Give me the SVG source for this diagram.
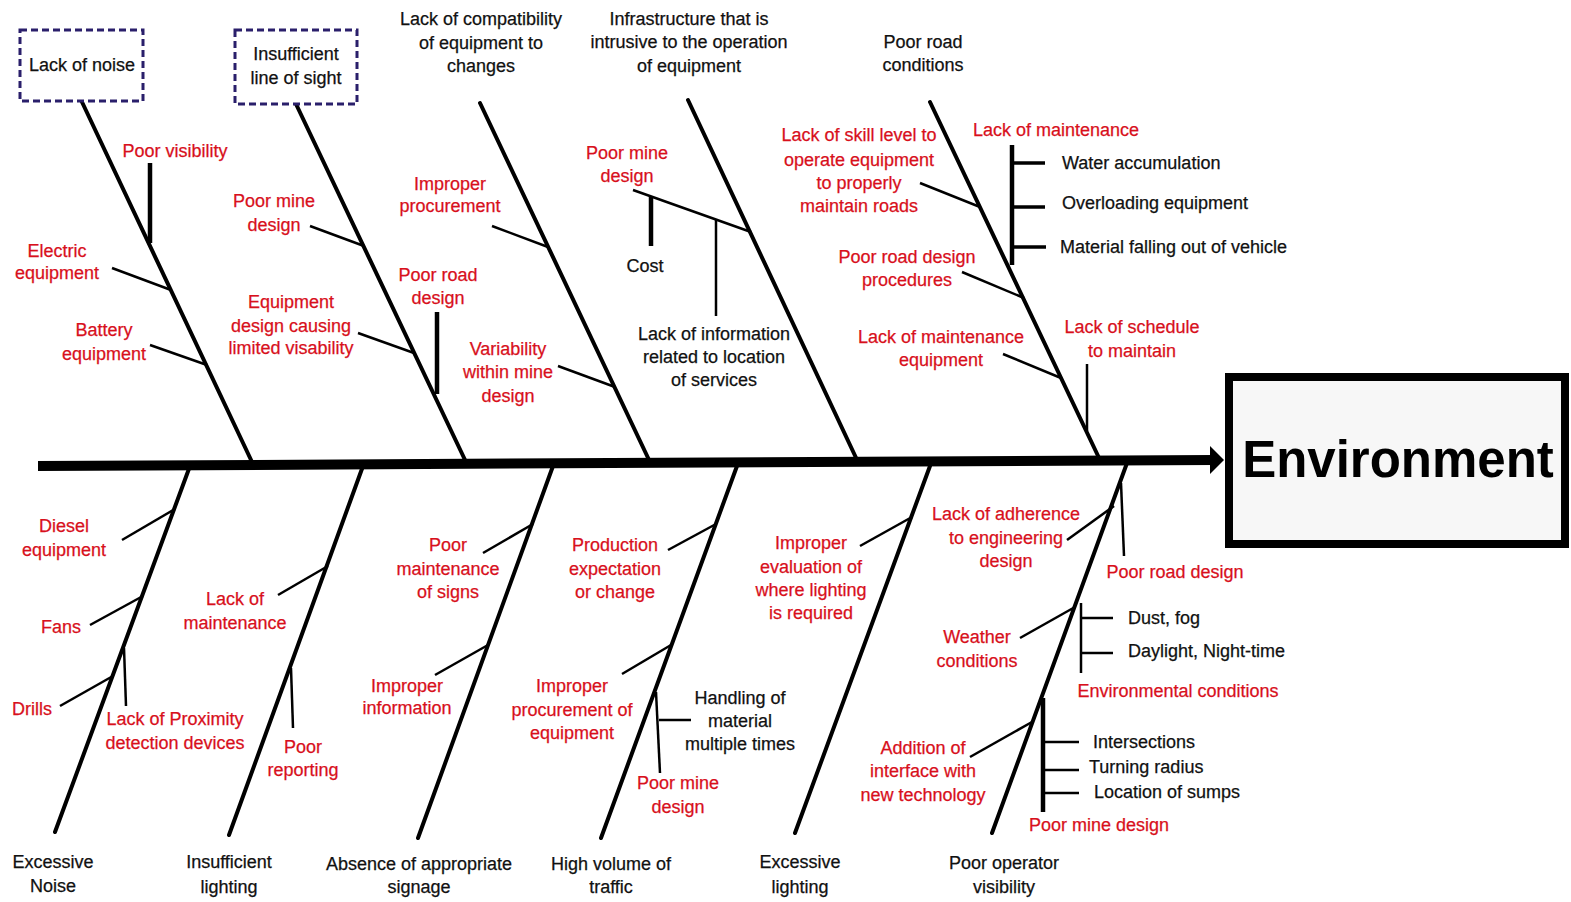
<svg xmlns="http://www.w3.org/2000/svg" width="1571" height="902" viewBox="0 0 1571 902">
<defs>
<style>
text{font-family:"Liberation Sans",Arial,sans-serif;font-size:18px}
.m{text-anchor:middle}
.r{fill:#d8101c;stroke:#d8101c;stroke-width:0.25}
.k{fill:#111;stroke:#111;stroke-width:0.25}
.bone{stroke:#000;stroke-width:4;fill:none;stroke-linecap:round}
.br{stroke:#000;stroke-width:2.5;fill:none}
.tk{stroke:#000;stroke-width:4.5;fill:none}
.dash{fill:#fff;stroke:#2a1f6b;stroke-width:3;stroke-dasharray:7 4}
</style>
</defs>
<rect width="1571" height="902" fill="#fff"/>
<g id="connectors">
<line x1="38" y1="466" x2="1214" y2="460" stroke="#000" stroke-width="10"/>
<polygon points="1210,446 1224,460 1210,474" fill="#000"/>
<line class="bone" x1="82" y1="102" x2="252" y2="462"/>
<line class="bone" x1="296" y1="104" x2="466" y2="462"/>
<line class="bone" x1="480" y1="103" x2="650" y2="462"/>
<line class="bone" x1="688" y1="100" x2="858" y2="462"/>
<line class="bone" x1="930" y1="102" x2="1100" y2="460"/>
<line class="tk" x1="150" y1="163" x2="150" y2="243"/>
<line class="br" x1="112" y1="268" x2="171" y2="290"/>
<line class="br" x1="150" y1="345" x2="207" y2="365"/>
<line class="br" x1="310" y1="226" x2="364" y2="246"/>
<line class="br" x1="358" y1="333" x2="414" y2="353"/>
<line class="tk" x1="437" y1="312" x2="437" y2="394"/>
<line class="br" x1="492" y1="226" x2="548" y2="247"/>
<line class="br" x1="558" y1="366" x2="615" y2="387"/>
<line class="br" x1="633" y1="190" x2="751" y2="232"/>
<line class="tk" x1="651" y1="197" x2="651" y2="246"/>
<line class="br" x1="716" y1="220" x2="716" y2="316"/>
<line class="br" x1="920" y1="183" x2="980" y2="207"/>
<line class="tk" x1="1012" y1="145" x2="1012" y2="265"/>
<line class="br" x1="1012" y1="163" x2="1045" y2="163" style="stroke-width:3.5"/>
<line class="br" x1="1012" y1="207" x2="1045" y2="207" style="stroke-width:3.5"/>
<line class="br" x1="1012" y1="247" x2="1046" y2="247" style="stroke-width:3.5"/>
<line class="br" x1="962" y1="272" x2="1024" y2="298"/>
<line class="br" x1="1003" y1="354" x2="1061" y2="378"/>
<line class="br" x1="1087" y1="364" x2="1087" y2="431"/>
<line class="bone" x1="190" y1="466" x2="55" y2="832"/>
<line class="bone" x1="363" y1="466" x2="229" y2="835"/>
<line class="bone" x1="553" y1="466" x2="418" y2="838"/>
<line class="bone" x1="737" y1="466" x2="601" y2="838"/>
<line class="bone" x1="930" y1="466" x2="795" y2="833"/>
<line class="bone" x1="1127" y1="463" x2="992" y2="833"/>
<line class="br" x1="122" y1="540" x2="175" y2="509"/>
<line class="br" x1="90" y1="625" x2="143" y2="596"/>
<line class="br" x1="60" y1="706" x2="113" y2="676"/>
<line class="br" x1="124" y1="648" x2="126" y2="706"/>
<line class="br" x1="278" y1="595" x2="328" y2="566"/>
<line class="br" x1="291" y1="668" x2="293" y2="728"/>
<line class="br" x1="483" y1="553" x2="533" y2="524"/>
<line class="br" x1="435" y1="675" x2="488" y2="645"/>
<line class="br" x1="668" y1="550" x2="716" y2="524"/>
<line class="br" x1="622" y1="674" x2="671" y2="645"/>
<line class="br" x1="656" y1="692" x2="660" y2="773"/>
<line class="br" x1="659" y1="720" x2="691" y2="720"/>
<line class="br" x1="860" y1="546" x2="912" y2="517"/>
<line class="br" x1="1067" y1="540" x2="1114" y2="506"/>
<line class="br" x1="1121" y1="483" x2="1124" y2="556"/>
<line class="br" x1="1020" y1="638" x2="1075" y2="607"/>
<line class="br" x1="1081" y1="603" x2="1081" y2="673"/>
<line class="br" x1="1081" y1="618" x2="1113" y2="618"/>
<line class="br" x1="1081" y1="653" x2="1113" y2="653"/>
<line class="br" x1="970" y1="757" x2="1032" y2="722"/>
<line class="tk" x1="1043" y1="698" x2="1043" y2="812"/>
<line class="br" x1="1043" y1="742" x2="1079" y2="742"/>
<line class="br" x1="1043" y1="770" x2="1079" y2="770"/>
<line class="br" x1="1043" y1="793" x2="1079" y2="793"/>
</g>
<g id="env">
<rect x="1229" y="377" width="336" height="167" fill="#f7f7f7" stroke="#000" stroke-width="8"/>
<text x="1398" y="477" text-anchor="middle" style="font-size:51px;font-weight:bold">Environment</text>
</g>
<g id="t1"><rect class="dash" x="20" y="30" width="123" height="71"/><text class="m k" x="82" y="71">Lack of noise</text></g>
<g id="t2"><rect class="dash" x="235" y="30" width="122" height="74"/><text class="m k" x="296" y="60">Insufficient</text><text class="m k" x="296" y="84">line of sight</text></g>
<g id="t3"><text class="m k" x="481" y="25">Lack of compatibility</text><text class="m k" x="481" y="49">of equipment to</text><text class="m k" x="481" y="72">changes</text></g>
<g id="t4"><text class="m k" x="689" y="25">Infrastructure that is</text><text class="m k" x="689" y="48">intrusive to the operation</text><text class="m k" x="689" y="72">of equipment</text></g>
<g id="t5"><text class="m k" x="923" y="48">Poor road</text><text class="m k" x="923" y="71">conditions</text></g>
<g id="n1"><text class="m r" x="175" y="157">Poor visibility</text></g>
<g id="n2"><text class="m r" x="57" y="257">Electric</text><text class="m r" x="57" y="279">equipment</text></g>
<g id="n3"><text class="m r" x="104" y="336">Battery</text><text class="m r" x="104" y="360">equipment</text></g>
<g id="n4"><text class="m r" x="274" y="207">Poor mine</text><text class="m r" x="274" y="231">design</text></g>
<g id="n5"><text class="m r" x="291" y="308">Equipment</text><text class="m r" x="291" y="332">design causing</text><text class="m r" x="291" y="354">limited visability</text></g>
<g id="n6"><text class="m r" x="438" y="281">Poor road</text><text class="m r" x="438" y="304">design</text></g>
<g id="n7"><text class="m r" x="450" y="190">Improper</text><text class="m r" x="450" y="212">procurement</text></g>
<g id="n8"><text class="m r" x="508" y="355">Variability</text><text class="m r" x="508" y="378">within mine</text><text class="m r" x="508" y="402">design</text></g>
<g id="n9"><text class="m r" x="627" y="159">Poor mine</text><text class="m r" x="627" y="182">design</text></g>
<g id="n10"><text class="m k" x="645" y="272">Cost</text></g>
<g id="n11"><text class="m k" x="714" y="340">Lack of information</text><text class="m k" x="714" y="363">related to location</text><text class="m k" x="714" y="386">of services</text></g>
<g id="n12"><text class="m r" x="859" y="141">Lack of skill level to</text><text class="m r" x="859" y="166">operate equipment</text><text class="m r" x="859" y="189">to properly</text><text class="m r" x="859" y="212">maintain roads</text></g>
<g id="n13"><text class="m r" x="1056" y="136">Lack of maintenance</text></g>
<g id="n14"><text class="k" x="1062" y="169">Water accumulation</text></g>
<g id="n15"><text class="k" x="1062" y="209">Overloading equipment</text></g>
<g id="n16"><text class="k" x="1060" y="253">Material falling out of vehicle</text></g>
<g id="n17"><text class="m r" x="907" y="263">Poor road design</text><text class="m r" x="907" y="286">procedures</text></g>
<g id="n18"><text class="m r" x="941" y="343">Lack of maintenance</text><text class="m r" x="941" y="366">equipment</text></g>
<g id="n19"><text class="m r" x="1132" y="333">Lack of schedule</text><text class="m r" x="1132" y="357">to maintain</text></g>
<g id="b1"><text class="m k" x="53" y="868">Excessive</text><text class="m k" x="53" y="892">Noise</text></g>
<g id="b2"><text class="m k" x="229" y="868">Insufficient</text><text class="m k" x="229" y="893">lighting</text></g>
<g id="b3"><text class="m k" x="419" y="870">Absence of appropriate</text><text class="m k" x="419" y="893">signage</text></g>
<g id="b4"><text class="m k" x="611" y="870">High volume of</text><text class="m k" x="611" y="893">traffic</text></g>
<g id="b5"><text class="m k" x="800" y="868">Excessive</text><text class="m k" x="800" y="893">lighting</text></g>
<g id="b6"><text class="m k" x="1004" y="869">Poor operator</text><text class="m k" x="1004" y="893">visibility</text></g>
<g id="m1"><text class="m r" x="64" y="532">Diesel</text><text class="m r" x="64" y="556">equipment</text></g>
<g id="m2"><text class="m r" x="61" y="633">Fans</text></g>
<g id="m3"><text class="m r" x="32" y="715">Drills</text></g>
<g id="m4"><text class="m r" x="175" y="725">Lack of Proximity</text><text class="m r" x="175" y="749">detection devices</text></g>
<g id="m5"><text class="m r" x="235" y="605">Lack of</text><text class="m r" x="235" y="629">maintenance</text></g>
<g id="m6"><text class="m r" x="303" y="753">Poor</text><text class="m r" x="303" y="776">reporting</text></g>
<g id="m7"><text class="m r" x="448" y="551">Poor</text><text class="m r" x="448" y="575">maintenance</text><text class="m r" x="448" y="598">of signs</text></g>
<g id="m8"><text class="m r" x="407" y="692">Improper</text><text class="m r" x="407" y="714">information</text></g>
<g id="m9"><text class="m r" x="615" y="551">Production</text><text class="m r" x="615" y="575">expectation</text><text class="m r" x="615" y="598">or change</text></g>
<g id="m10"><text class="m r" x="572" y="692">Improper</text><text class="m r" x="572" y="716">procurement of</text><text class="m r" x="572" y="739">equipment</text></g>
<g id="m11"><text class="m k" x="740" y="704">Handling of</text><text class="m k" x="740" y="727">material</text><text class="m k" x="740" y="750">multiple times</text></g>
<g id="m12"><text class="m r" x="678" y="789">Poor mine</text><text class="m r" x="678" y="813">design</text></g>
<g id="m13"><text class="m r" x="811" y="549">Improper</text><text class="m r" x="811" y="573">evaluation of</text><text class="m r" x="811" y="596">where lighting</text><text class="m r" x="811" y="619">is required</text></g>
<g id="m14"><text class="m r" x="1006" y="520">Lack of adherence</text><text class="m r" x="1006" y="544">to engineering</text><text class="m r" x="1006" y="567">design</text></g>
<g id="m15"><text class="m r" x="1175" y="578">Poor road design</text></g>
<g id="m16"><text class="m r" x="977" y="643">Weather</text><text class="m r" x="977" y="667">conditions</text></g>
<g id="m17"><text class="k" x="1128" y="624">Dust, fog</text></g>
<g id="m18"><text class="k" x="1128" y="657">Daylight, Night-time</text></g>
<g id="m19"><text class="m r" x="1178" y="697">Environmental conditions</text></g>
<g id="m20"><text class="m r" x="923" y="754">Addition of</text><text class="m r" x="923" y="777">interface with</text><text class="m r" x="923" y="801">new technology</text></g>
<g id="m21"><text class="k" x="1093" y="748">Intersections</text></g>
<g id="m22"><text class="k" x="1089" y="773">Turning radius</text></g>
<g id="m23"><text class="k" x="1094" y="798">Location of sumps</text></g>
<g id="m24"><text class="m r" x="1099" y="831">Poor mine design</text></g>
</svg>
